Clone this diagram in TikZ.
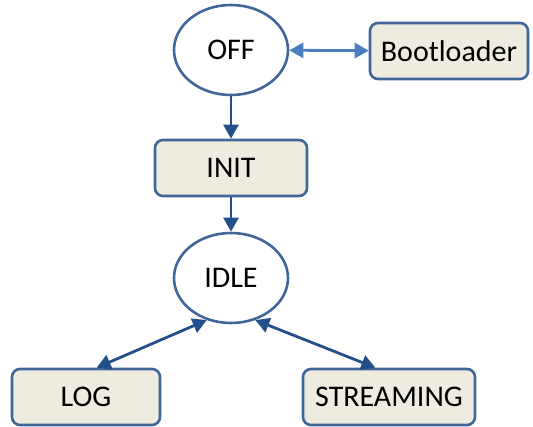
\documentclass[tikz,border=0pt]{standalone}
\usepackage{fontspec}
\setmainfont{Carlito}
\usetikzlibrary{shapes.geometric,arrows.meta}
\definecolor{boxfill}{HTML}{EEECE1}
\definecolor{edgeblue}{HTML}{41679A}
\definecolor{linkdark}{HTML}{23508A}
\definecolor{linklight}{HTML}{4A7EBF}

\begin{document}
\begin{tikzpicture}[x=1pt, y=-1pt,
    state/.style={ellipse, draw=edgeblue, line width=2.6pt, fill=white,
      minimum width=114pt, minimum height=90pt, inner sep=0pt,
      font=\fontsize{30}{34}\selectfont},
    stagebox/.style={rectangle, rounded corners=8pt, draw=edgeblue, line width=2.6pt,
      fill=boxfill, minimum height=56pt, inner sep=0pt,
      font=\fontsize{30}{34}\selectfont},
    link/.style={draw=linkdark, line width=2.8pt,
      -{Triangle[length=14pt,width=15pt]}},
    twoway/.style={{Triangle[length=14pt,width=15pt]}-{Triangle[length=14pt,width=15pt]}}]
      \useasboundingbox (0,0) rectangle (533,427);
      % states
      \node[state] (off) at (231,50) {OFF};
      \node[state] (idle) at (231,278) {IDLE};
      % boxes
      \node[stagebox, minimum width=158pt] (boot) at (449,51) {Bootloader};
      \node[stagebox, minimum width=152pt] (init) at (231,168) {INIT};
      \node[stagebox, minimum width=148pt] (log) at (86,397) {LOG};
      \node[stagebox, minimum width=172pt] (stream) at (389,397) {STREAMING};
      % connectors
      \draw[link, draw=linklight, twoway] (off) -- (boot);
      \draw[link] (off) -- (init);
      \draw[link] (init) -- (idle);
      \draw[link, twoway] (idle.240) -- (log.70);
      \draw[link, twoway] (idle.300) -- (stream.115);
    \end{tikzpicture}
\end{document}
